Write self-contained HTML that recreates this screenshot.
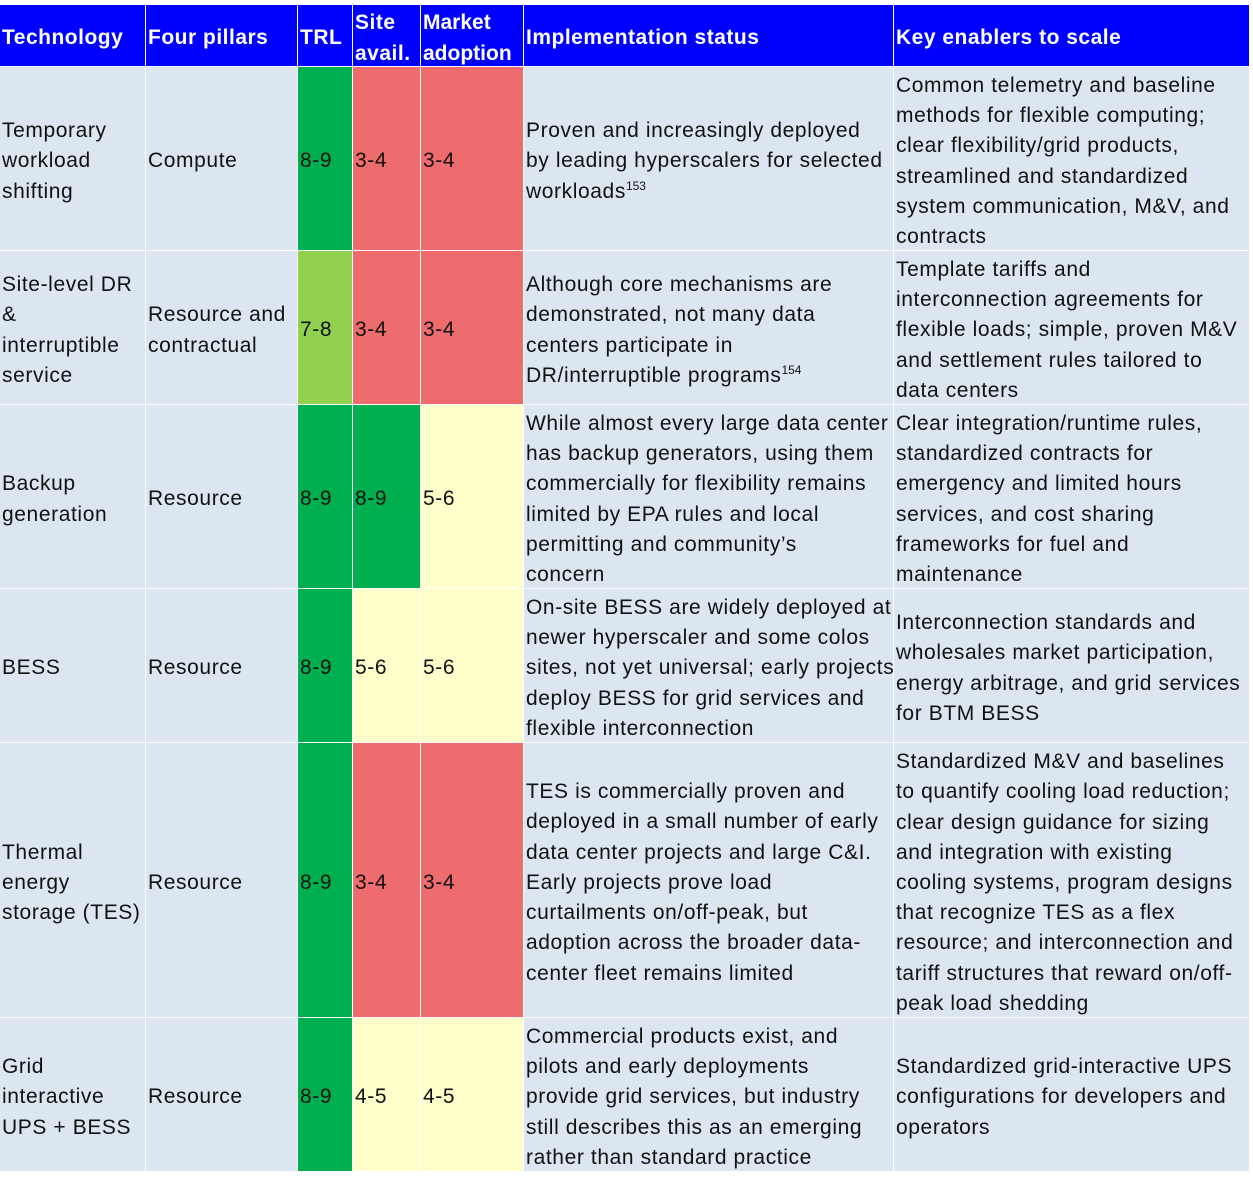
<!DOCTYPE html>
<html><head><meta charset="utf-8">
<style>
html,body{margin:0;padding:0;background:#fff;}
body{width:1253px;height:1178px;position:relative;overflow:hidden;font-family:"Liberation Sans",Arial,sans-serif;}
.c{position:absolute;box-sizing:border-box;display:flex;align-items:center;padding-left:2px;padding-top:6px;font-size:21px;line-height:30.2px;color:#111;white-space:nowrap;letter-spacing:0.6px;}
.h{background:#0000FF;color:#fff;font-weight:bold;font-size:21px;line-height:31px;letter-spacing:0.5px;padding-top:4px;}
.b{background:#DCE6F1;}
.g{background:#00B050;}
.lg{background:#92D050;}
.r{background:#EE6B6E;}
.y{background:#FFFFCC;}
sup{font-size:12px;line-height:0;vertical-align:8px;letter-spacing:0;}
</style></head><body>
<div class="c h" style="left:0;top:5px;width:145px;height:61px;"><span>Technology</span></div>
<div class="c h" style="left:146px;top:5px;width:151px;height:61px;"><span>Four pillars</span></div>
<div class="c h" style="left:298px;top:5px;width:54px;height:61px;"><span>TRL</span></div>
<div class="c h" style="left:353px;top:5px;width:67px;height:61px;"><span>Site<br>avail.</span></div>
<div class="c h" style="left:421px;top:5px;width:102px;height:61px;letter-spacing:0;"><span>Market<br>adoption</span></div>
<div class="c h" style="left:524px;top:5px;width:369px;height:61px;"><span>Implementation status</span></div>
<div class="c h" style="left:894px;top:5px;width:355px;height:61px;"><span>Key enablers to scale</span></div>

<div class="c b" style="left:0;top:67px;width:145px;height:183px;"><span>Temporary<br>workload<br>shifting</span></div>
<div class="c b" style="left:146px;top:67px;width:151px;height:183px;"><span>Compute</span></div>
<div class="c g" style="left:298px;top:67px;width:54px;height:183px;"><span>8-9</span></div>
<div class="c r" style="left:353px;top:67px;width:67px;height:183px;"><span>3-4</span></div>
<div class="c r" style="left:421px;top:67px;width:102px;height:183px;"><span>3-4</span></div>
<div class="c b" style="left:524px;top:67px;width:369px;height:183px;"><span>Proven and increasingly deployed<br>by leading hyperscalers for selected<br>workloads<sup>153</sup></span></div>
<div class="c b" style="left:894px;top:67px;width:355px;height:183px;"><span>Common telemetry and baseline<br>methods for flexible computing;<br>clear flexibility/grid products,<br>streamlined and standardized<br>system communication, M&amp;V, and<br>contracts</span></div>

<div class="c b" style="left:0;top:251px;width:145px;height:153px;"><span>Site-level DR<br>&amp;<br>interruptible<br>service</span></div>
<div class="c b" style="left:146px;top:251px;width:151px;height:153px;"><span>Resource and<br>contractual</span></div>
<div class="c lg" style="left:298px;top:251px;width:54px;height:153px;"><span>7-8</span></div>
<div class="c r" style="left:353px;top:251px;width:67px;height:153px;"><span>3-4</span></div>
<div class="c r" style="left:421px;top:251px;width:102px;height:153px;"><span>3-4</span></div>
<div class="c b" style="left:524px;top:251px;width:369px;height:153px;"><span>Although core mechanisms are<br>demonstrated, not many data<br>centers participate in<br>DR/interruptible programs<sup>154</sup></span></div>
<div class="c b" style="left:894px;top:251px;width:355px;height:153px;"><span>Template tariffs and<br>interconnection agreements for<br>flexible loads; simple, proven M&amp;V<br>and settlement rules tailored to<br>data centers</span></div>

<div class="c b" style="left:0;top:405px;width:145px;height:183px;"><span>Backup<br>generation</span></div>
<div class="c b" style="left:146px;top:405px;width:151px;height:183px;"><span>Resource</span></div>
<div class="c g" style="left:298px;top:405px;width:54px;height:183px;"><span>8-9</span></div>
<div class="c g" style="left:353px;top:405px;width:67px;height:183px;"><span>8-9</span></div>
<div class="c y" style="left:421px;top:405px;width:102px;height:183px;"><span>5-6</span></div>
<div class="c b" style="left:524px;top:405px;width:369px;height:183px;"><span>While almost every large data center<br>has backup generators, using them<br>commercially for flexibility remains<br>limited by EPA rules and local<br>permitting and community’s<br>concern</span></div>
<div class="c b" style="left:894px;top:405px;width:355px;height:183px;"><span>Clear integration/runtime rules,<br>standardized contracts for<br>emergency and limited hours<br>services, and cost sharing<br>frameworks for fuel and<br>maintenance</span></div>

<div class="c b" style="left:0;top:589px;width:145px;height:153px;"><span>BESS</span></div>
<div class="c b" style="left:146px;top:589px;width:151px;height:153px;"><span>Resource</span></div>
<div class="c g" style="left:298px;top:589px;width:54px;height:153px;"><span>8-9</span></div>
<div class="c y" style="left:353px;top:589px;width:67px;height:153px;"><span>5-6</span></div>
<div class="c y" style="left:421px;top:589px;width:102px;height:153px;"><span>5-6</span></div>
<div class="c b" style="left:524px;top:589px;width:369px;height:153px;"><span>On-site BESS are widely deployed at<br>newer hyperscaler and some colos<br>sites, not yet universal; early projects<br>deploy BESS for grid services and<br>flexible interconnection</span></div>
<div class="c b" style="left:894px;top:589px;width:355px;height:153px;"><span>Interconnection standards and<br>wholesales market participation,<br>energy arbitrage, and grid services<br>for BTM BESS</span></div>

<div class="c b" style="left:0;top:743px;width:145px;height:274px;"><span>Thermal<br>energy<br>storage (TES)</span></div>
<div class="c b" style="left:146px;top:743px;width:151px;height:274px;"><span>Resource</span></div>
<div class="c g" style="left:298px;top:743px;width:54px;height:274px;"><span>8-9</span></div>
<div class="c r" style="left:353px;top:743px;width:67px;height:274px;"><span>3-4</span></div>
<div class="c r" style="left:421px;top:743px;width:102px;height:274px;"><span>3-4</span></div>
<div class="c b" style="left:524px;top:743px;width:369px;height:274px;"><span>TES is commercially proven and<br>deployed in a small number of early<br>data center projects and large C&amp;I.<br>Early projects prove load<br>curtailments on/off-peak, but<br>adoption across the broader data-<br>center fleet remains limited</span></div>
<div class="c b" style="left:894px;top:743px;width:355px;height:274px;"><span>Standardized M&amp;V and baselines<br>to quantify cooling load reduction;<br>clear design guidance for sizing<br>and integration with existing<br>cooling systems, program designs<br>that recognize TES as a flex<br>resource; and interconnection and<br>tariff structures that reward on/off-<br>peak load shedding</span></div>

<div class="c b" style="left:0;top:1018px;width:145px;height:153px;"><span>Grid<br>interactive<br>UPS + BESS</span></div>
<div class="c b" style="left:146px;top:1018px;width:151px;height:153px;"><span>Resource</span></div>
<div class="c g" style="left:298px;top:1018px;width:54px;height:153px;"><span>8-9</span></div>
<div class="c y" style="left:353px;top:1018px;width:67px;height:153px;"><span>4-5</span></div>
<div class="c y" style="left:421px;top:1018px;width:102px;height:153px;"><span>4-5</span></div>
<div class="c b" style="left:524px;top:1018px;width:369px;height:153px;"><span>Commercial products exist, and<br>pilots and early deployments<br>provide grid services, but industry<br>still describes this as an emerging<br>rather than standard practice</span></div>
<div class="c b" style="left:894px;top:1018px;width:355px;height:153px;"><span>Standardized grid-interactive UPS<br>configurations for developers and<br>operators</span></div>
</body></html>
